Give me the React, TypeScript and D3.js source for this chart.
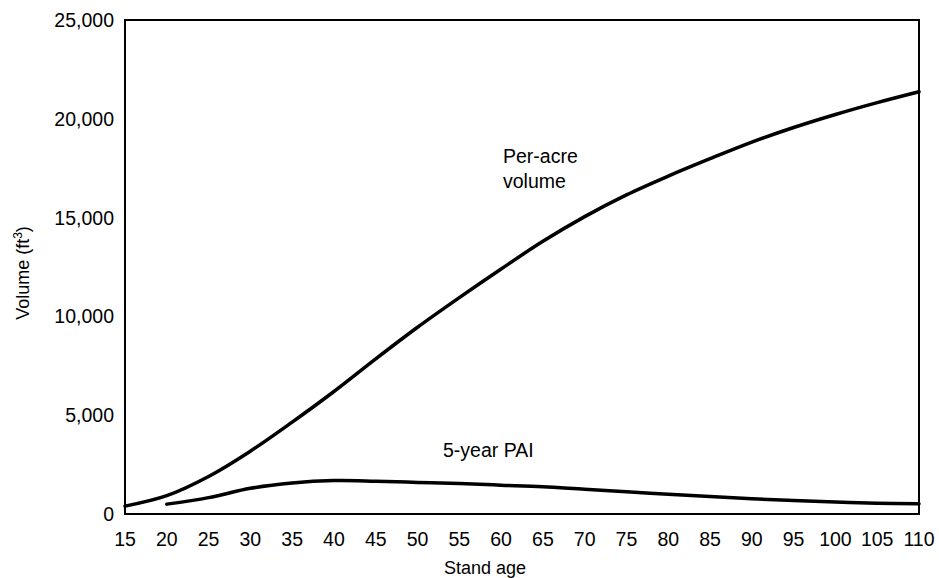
import React, { useEffect } from "react";
import * as d3 from "d3";

// Stand age (years)
const ages = [15, 20, 25, 30, 35, 40, 45, 50, 55, 60, 65, 70, 75, 80, 85, 90, 95, 100, 105, 110];
// Per-acre volume (ft³)
const perAcreVolume = [400, 930, 1900, 3180, 4650, 6200, 7850, 9450, 10950, 12400, 13800, 15050, 16150, 17100, 17980, 18820, 19560, 20220, 20820, 21370];
// 5-year periodic annual increment (ft³), starts at age 20
const paiAges = [20, 25, 30, 35, 40, 45, 50, 55, 60, 65, 70, 75, 80, 85, 90, 95, 100, 105, 110];
const paiValues = [500, 830, 1300, 1570, 1690, 1660, 1600, 1540, 1460, 1380, 1250, 1130, 1000, 880, 770, 680, 610, 550, 520];

const xTicks = [15, 20, 25, 30, 35, 40, 45, 50, 55, 60, 65, 70, 75, 80, 85, 90, 95, 100, 105, 110];
const yTicks = [0, 5000, 10000, 15000, 20000, 25000];

const W = 939;
const H = 578;
const left = 125;
const right = 919;
const top = 20;
const bottom = 514;
const FONT = "'Liberation Sans', Arial, sans-serif";
const TICK_FONT = 19.5;

export default function App() {
  useEffect(() => {
    document.body.style.margin = "0";
  }, []);

  const x = d3.scaleLinear().domain([15, 110]).range([left, right]);
  const y = d3.scaleLinear().domain([0, 25000]).range([bottom, top]);
  const fmt = d3.format(",");

  const line = d3
    .line<[number, number]>()
    .x((d) => x(d[0]))
    .y((d) => y(d[1]))
    .curve(d3.curveCatmullRom.alpha(0.5));

  const volPath = line(ages.map((a, i) => [a, perAcreVolume[i]] as [number, number])) || "";
  const paiPath = line(paiAges.map((a, i) => [a, paiValues[i]] as [number, number])) || "";

  return (
    <svg width={W} height={H} style={{ display: "block", background: "#fff" }} fontFamily={FONT}>
      <rect x={left} y={top} width={right - left} height={bottom - top} fill="none" stroke="#000" strokeWidth={2} />
      {yTicks.map((t) => (
        <text key={t} x={114} y={y(t)} dy="0.36em" textAnchor="end" fontSize={TICK_FONT} fill="#000">
          {fmt(t)}
        </text>
      ))}
      {xTicks.map((t) => (
        <text key={t} x={x(t)} y={546} textAnchor="middle" fontSize={TICK_FONT} fill="#000">
          {t}
        </text>
      ))}
      <text x={485} y={574} textAnchor="middle" fontSize={18} fill="#000">
        Stand age
      </text>
      <text transform={`translate(29, ${(top + bottom) / 2 + 6}) rotate(-90)`} textAnchor="middle" fontSize={18} fill="#000">
        Volume (ft<tspan dy="-7" fontSize={12}>3</tspan>
        <tspan dy="7">)</tspan>
      </text>
      <path d={volPath} fill="none" stroke="#000" strokeWidth={3.5} strokeLinecap="round" />
      <path d={paiPath} fill="none" stroke="#000" strokeWidth={3.5} strokeLinecap="round" />
      <text x={503} y={163} fontSize={TICK_FONT} fill="#000">Per-acre</text>
      <text x={503} y={188} fontSize={TICK_FONT} fill="#000">volume</text>
      <text x={443} y={457} fontSize={TICK_FONT} fill="#000">5-year PAI</text>
    </svg>
  );
}
